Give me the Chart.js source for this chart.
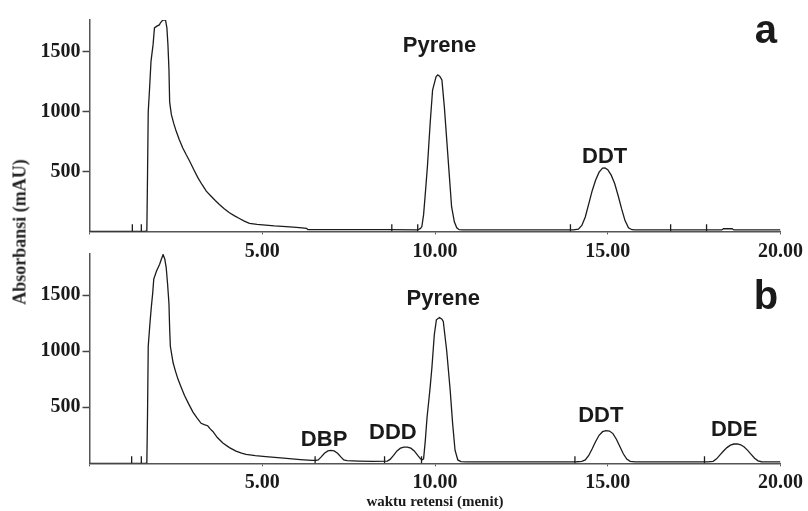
<!DOCTYPE html>
<html><head><meta charset="utf-8">
<script src="https://cdn.jsdelivr.net/npm/chart.js@4.4.1/dist/chart.umd.min.js"></script>
<style>
html,body{margin:0;padding:0;background:#fff;}
#wrap{position:relative;width:808px;height:511px;overflow:hidden;background:#fff;}
.cv{position:absolute;left:0;}
#ytitle{position:absolute;left:20px;top:232px;transform:translate(-50%,-50%) rotate(-90deg);font:bold 18px "Liberation Serif";white-space:nowrap;color:#222;}
</style></head><body>
<div id="wrap">
<div class="cv" style="top:0;width:808px;height:262px"><canvas id="ca"></canvas></div>
<div class="cv" style="top:240px;width:808px;height:271px"><canvas id="cb"></canvas></div>
<div id="ytitle">Absorbansi (mAU)</div>
</div>
<script>
// ---- Data: retention time (min), absorbance (mAU) ----
const traceA = [
 [0,0],[1.60,0],[1.66,5],[1.68,480],[1.70,1000],[1.74,1200],[1.78,1420],[1.84,1560],[1.88,1700],
 [1.95,1715],[2.02,1725],[2.06,1745],[2.12,1765],[2.20,1766],[2.24,1700],[2.27,1560],[2.30,1350],
 [2.32,1080],[2.37,975],[2.44,900],[2.51,836],[2.60,765],[2.70,697],[2.80,640],[2.90,586],[3.02,515],
 [3.14,447],[3.26,390],[3.38,336],[3.52,294],[3.64,258],[3.76,225],[3.90,190],[4.05,156],[4.20,130],
 [4.34,108],[4.48,86],[4.63,67],[4.85,58],[5.10,53],[5.35,46],[5.58,42],[5.90,36],[6.15,30],[6.28,26],
 [6.32,16],[7.5,15],[8.6,14],[9.50,12],[9.58,25],[9.62,40],[9.67,140],[9.72,318],[9.78,540],[9.86,903],
 [9.93,1181],[10.03,1292],[10.08,1308],[10.14,1295],[10.20,1265],[10.27,1042],[10.34,764],[10.41,485],
 [10.48,206],[10.56,80],[10.63,30],[10.70,14],[10.8,12],[14.0,12],[14.15,18],[14.25,50],[14.35,120],
 [14.45,230],[14.55,340],[14.65,430],[14.75,495],[14.85,528],[14.92,530],[15.0,515],[15.1,470],
 [15.2,400],[15.3,300],[15.4,190],[15.5,90],[15.6,30],[15.7,14],[15.8,12],[18.3,12],[18.35,22],
 [18.6,22],[18.65,12],[20,12]
];
const traceB = [
 [0,0],[1.62,0],[1.66,5],[1.68,450],[1.70,1044],[1.75,1250],[1.79,1395],[1.83,1520],[1.86,1643],
 [1.94,1716],[2.03,1775],[2.08,1820],[2.13,1862],[2.18,1820],[2.22,1746],[2.26,1600],[2.30,1424],
 [2.32,1200],[2.34,1044],[2.42,897],[2.49,820],[2.56,751],[2.65,680],[2.75,605],[2.87,530],[2.99,459],
 [3.11,405],[3.23,357],[3.32,345],[3.42,335],[3.50,305],[3.57,284],[3.70,230],[3.86,181],[4.05,140],
 [4.24,108],[4.40,90],[4.53,79],[4.80,68],[5.10,59],[5.45,50],[5.78,41],[6.10,33],[6.44,26],[6.55,26],
 [6.62,30],[6.70,55],[6.80,90],[6.90,110],[6.98,115],[7.08,110],[7.18,90],[7.28,55],[7.36,30],
 [7.45,24],[7.8,20],[8.2,18],[8.62,20],[8.70,35],[8.80,70],[8.90,110],[9.00,135],[9.10,145],
 [9.20,145],[9.30,135],[9.40,110],[9.50,70],[9.58,40],[9.62,30],[9.67,40],[9.72,205],[9.77,411],
 [9.82,558],[9.86,680],[9.91,852],[9.98,1147],[10.04,1280],[10.13,1300],[10.20,1285],[10.24,1265],
 [10.34,1000],[10.44,649],[10.51,356],[10.58,117],[10.66,30],[10.75,15],[10.9,12],[14.1,14],
 [14.25,18],[14.35,30],[14.45,70],[14.55,130],[14.65,195],[14.75,250],[14.85,282],[14.95,292],
 [15.05,288],[15.15,265],[15.25,215],[15.35,150],[15.45,85],[15.55,38],[15.65,18],[15.8,12],
 [17.9,12],[18.05,18],[18.15,40],[18.25,75],[18.35,110],[18.45,140],[18.55,162],[18.65,172],
 [18.75,173],[18.85,165],[18.95,145],[19.05,115],[19.15,80],[19.25,45],[19.35,22],[19.45,14],
 [19.6,12],[20,12]
];
// integration event marks (retention times)
const marksA = [1.24, 1.50, 8.75, 9.50, 13.92, 16.82, 17.86];
const marksB = [1.22, 1.50, 6.53, 8.54, 9.61, 14.05, 17.80];
// peak names
const peaksA = ['Pyrene', 'DDT'];
const peaksB = ['DBP', 'DDD', 'Pyrene', 'DDT', 'DDE'];
const peakTimesA = [10.13, 14.91];
const peakTimesB = [6.79, 8.78, 10.24, 14.80, 18.66];
const peakLabelLevelA = [1549, 622];
const peakLabelLevelB = [206, 268, 1468, 426, 294];
const panelNames = ['a', 'b'];
// axes
const xTicks = [0, 5, 10, 15, 20];
const xTickLabels = ['', '5.00', '10.00', '15.00', '20.00'];
const yTicks = [500, 1000, 1500];
const yTickLabels = ['500', '1000', '1500'];
const yMaxA = 1766, yMaxB = 1867;
const xTitle = 'waktu retensi (menit)';

const INK = '#1c1c1c';
const tickFont = {family: '"Liberation Serif"', size: 20, weight: 'bold'};

const labelPlugin = {
  id: 'peakLabels',
  afterDatasetsDraw(chart, args, opts) {
    const {ctx, scales: {x, y}} = chart;
    ctx.save();
    ctx.fillStyle = '#1a1a1a';
    ctx.textAlign = 'center';
    ctx.textBaseline = 'middle';
    (opts.items || []).forEach(it => {
      ctx.font = it.big ? 'bold 40px "Liberation Sans"' : 'bold 22px "Liberation Sans"';
      ctx.fillText(it.text, x.getPixelForValue(it.t), y.getPixelForValue(it.v));
    });
    ctx.restore();
  }
};

function makeChart(id, trace, marks, yMax, items, xAxisHeight, padTop, withTitle) {
  return new Chart(document.getElementById(id), {
    type: 'line',
    data: {
      datasets: [
        {data: trace.map(p => ({x: p[0], y: p[1]})), borderColor: INK, borderWidth: 1.3,
         pointRadius: 0, tension: 0, fill: false},
        {data: marks.map(t => ({x: t, y: 30})), showLine: false, borderColor: INK,
         borderWidth: 1.3, pointStyle: 'line', rotation: 90, pointRadius: 3.6}
      ]
    },
    options: {
      responsive: true, maintainAspectRatio: false, animation: false, devicePixelRatio: 1,
      layout: {padding: {left: 0, right: 24.5, top: padTop, bottom: 0}},
      plugins: {legend: {display: false}, tooltip: {enabled: false}, peakLabels: {items}},
      scales: {
        x: {
          type: 'linear', min: 0, max: 20,
          afterBuildTicks: s => { s.ticks = xTicks.map(v => ({value: v})); },
          afterFit: s => { s.height = xAxisHeight; },
          ticks: {autoSkip: false, maxRotation: 0, padding: 5, color: '#1a1a1a', font: tickFont,
                  callback: (v) => xTickLabels[xTicks.indexOf(v)] ?? ''},
          grid: {drawOnChartArea: false, tickLength: 3, color: '#555', tickWidth: 1},
          border: {color: '#555', width: 1.5},
          title: withTitle ? {display: true, text: xTitle, color: '#1a1a1a',
                  font: {family: '"Liberation Serif"', size: 15, weight: 'bold'}, padding: {top: 0, bottom: 0}} : {display: false}
        },
        y: {
          min: 0, max: yMax,
          afterBuildTicks: s => { s.ticks = yTicks.map(v => ({value: v})); },
          afterFit: s => { s.width = 89.5; },
          ticks: {padding: 2, color: '#1a1a1a', font: tickFont,
                  callback: (v) => yTickLabels[yTicks.indexOf(v)] ?? ''},
          grid: {drawOnChartArea: false, tickLength: 7, color: '#444', tickWidth: 1.5},
          border: {color: '#555', width: 1.5}
        }
      }
    },
    plugins: [labelPlugin]
  });
}

const itemsA = peaksA.map((t, i) => ({text: t, t: peakTimesA[i], v: peakLabelLevelA[i]}));
itemsA.push({text: panelNames[0], t: 19.58, v: 1666, big: true});
const itemsB = peaksB.map((t, i) => ({text: t, t: peakTimesB[i], v: peakLabelLevelB[i]}));
itemsB.push({text: panelNames[1], t: 19.58, v: 1477, big: true});

makeChart('ca', traceA, marksA, yMaxA, itemsA, 30.6, 20, false);
makeChart('cb', traceB, marksB, yMaxB, itemsB, 47.7, 11.7, true);
</script>
</body></html>
